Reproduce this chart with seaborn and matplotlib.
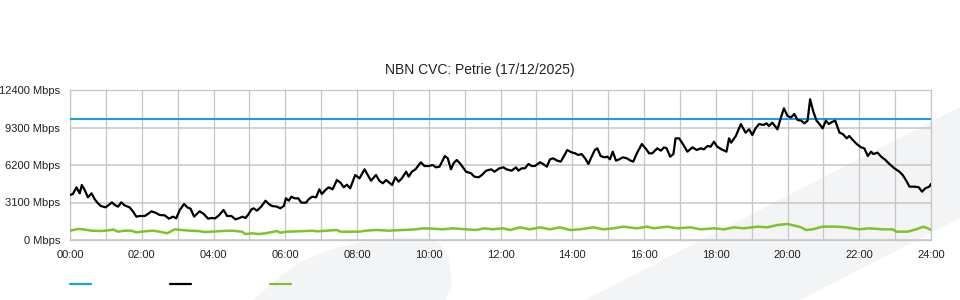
import matplotlib
matplotlib.use("Agg")
import matplotlib.pyplot as plt
import seaborn as sns
import pandas as pd
from matplotlib.lines import Line2D
from matplotlib.patches import Polygon
from matplotlib.ticker import MultipleLocator, FixedLocator

title = "NBN CVC: Petrie (17/12/2025)"
y_ticks = [0, 3100, 6200, 9300, 12400]
y_tick_labels = [f"{v} Mbps" for v in y_ticks]
x_ticks = list(range(0, 25, 2))
x_tick_labels = [f"{h:02d}:00" for h in x_ticks]

capacity_hours = [0, 24]
capacity_mbps = [10000, 10000]

traffic_hours = [
    0.0, 0.08, 0.18, 0.27, 0.33, 0.41, 0.5, 0.6, 0.69, 0.78, 0.86, 0.99, 1.08, 1.17, 1.25, 1.34,
    1.43, 1.52, 1.66, 1.76, 1.85, 1.94, 2.08, 2.17, 2.27, 2.38, 2.5, 2.64, 2.76, 2.87, 2.96, 3.06,
    3.18, 3.27, 3.36, 3.46, 3.61, 3.71, 3.85, 3.94,
    4.05, 4.16, 4.28, 4.38, 4.5, 4.61, 4.7, 4.81, 4.89, 4.96, 5.06, 5.12, 5.21, 5.33, 5.45, 5.54,
    5.63, 5.77, 5.86, 5.96, 6.02, 6.1, 6.17, 6.26, 6.36, 6.45, 6.58, 6.65, 6.75, 6.86, 6.95, 7.02,
    7.12, 7.21, 7.32, 7.44, 7.54, 7.63, 7.72, 7.81, 7.95,
    8.07, 8.21, 8.3, 8.39, 8.53, 8.62, 8.72, 8.81, 8.9, 8.98, 9.07, 9.16, 9.25, 9.37, 9.44, 9.53,
    9.63, 9.78, 9.88, 10.0, 10.11, 10.2, 10.3, 10.37, 10.45, 10.53, 10.62, 10.69, 10.78, 10.87,
    10.95, 11.04, 11.18, 11.27, 11.39, 11.48, 11.6, 11.74, 11.83, 11.97,
    12.08, 12.17, 12.31, 12.43, 12.5, 12.59, 12.68, 12.78, 12.87, 12.96, 13.1, 13.19, 13.29, 13.38,
    13.47, 13.58, 13.68, 13.77, 13.86, 13.98, 14.08, 14.17, 14.26, 14.36, 14.45, 14.54, 14.63, 14.7,
    14.79, 14.89, 14.98, 15.05, 15.13, 15.22, 15.31, 15.41, 15.52, 15.63, 15.7, 15.81, 15.94, 16.08,
    16.14, 16.23, 16.37, 16.47, 16.56, 16.63, 16.73, 16.82, 16.88, 16.98, 17.1, 17.21, 17.35, 17.47,
    17.58, 17.67, 17.77, 17.86, 17.95, 18.04, 18.16, 18.3, 18.37, 18.43, 18.56, 18.7, 18.83, 18.93,
    19.02, 19.11, 19.21, 19.33, 19.42, 19.48, 19.58, 19.72, 19.81, 19.9,
    20.0, 20.1, 20.19, 20.28, 20.38, 20.47, 20.56, 20.63, 20.72, 20.81, 20.89, 20.98, 21.07, 21.15,
    21.26, 21.33, 21.45, 21.54, 21.65, 21.72, 21.82, 21.93, 22.05, 22.14, 22.24, 22.33, 22.39, 22.51,
    22.61, 22.73, 22.84, 22.98, 23.12, 23.21, 23.3, 23.4, 23.54, 23.66, 23.75, 23.84, 23.95, 24.0,
]
traffic_mbps = [
    3720, 3803, 4354, 3858, 4547, 4133, 3527, 3858, 3362, 3031, 2811, 2700, 2893, 3114, 2893, 2756,
    3114, 2866, 2700, 2342, 1929, 1984, 1984, 2149, 2370, 2259, 2067, 2039, 1764, 1929, 1791, 2480,
    2976, 2700, 2590, 1929, 2370, 2204, 1764, 1819,
    1791, 2067, 2480, 1984, 1984, 1709, 1791, 1929, 1819, 2067, 2535, 2618, 2425, 2756, 3251, 2976,
    2811, 2756, 2618, 2811, 3445, 3251, 3582, 3445, 3445, 3086, 3086, 3362, 3582, 3527, 4189, 3803,
    4133, 4354, 4189, 4960, 4740, 4354, 4574, 4271, 5373,
    5098, 5842, 5373, 4905, 5373, 4905, 4685, 4960, 4740, 4547, 5181, 4822, 5098, 5649, 5236, 5649,
    5842, 6421, 6117, 6117, 6200, 6007, 6062, 6476, 6944, 6751, 5842, 6338, 6613, 6338,
    6007, 5649, 5511, 5236, 5181, 5373, 5731, 5842, 5649, 5925,
    6007, 5842, 5731, 6007, 5731, 5925, 5925, 6283, 6117, 6117, 6421, 6283, 6062, 6669,
    6751, 6558, 6476, 6944, 7440, 7247, 7165, 7027, 7109, 6751, 6283, 6889, 7440, 7578,
    6944, 6834, 6889, 6669, 7302, 6558, 6669, 6834, 6751, 6558, 6476, 7219, 7936, 7440,
    7165, 7165, 7578, 7385, 7661, 7578, 6889, 7109, 8405, 8405, 7853, 7302, 7661, 7440,
    7578, 7495, 7771, 7716, 8129, 7716, 7495, 7302, 8405, 8046, 8597, 9589, 8873, 9149,
    8680, 9231, 9589, 9507, 9645, 9424, 9700, 9149, 10058, 10885,
    10251, 10141, 10416, 9920, 9865, 9645, 9865, 11629, 10609, 9865, 9589, 9231, 9865, 9589,
    9782, 9865, 8873, 8763, 8405, 8597, 8267, 7936, 7661, 7578, 6944, 7302, 7109, 7219,
    6889, 6613, 6283, 5925, 5649, 5373, 4960, 4409, 4409, 4354, 3996, 4271, 4409, 4629,
]

upload_hours = [
    0.0, 0.22, 0.36, 0.6, 0.87, 1.15, 1.2, 1.34, 1.52, 1.71, 1.85, 2.08, 2.31, 2.5, 2.71, 2.92,
    3.1, 3.34, 3.57, 3.75, 3.96, 4.24, 4.52, 4.79, 4.89, 5.07, 5.26, 5.45, 5.77, 5.86, 6.05, 6.37,
    6.75, 6.89, 7.16, 7.44, 7.54, 7.86, 8.06, 8.25, 8.53, 8.9, 9.27, 9.65, 9.83, 10.11, 10.39, 10.67,
    11.04, 11.32, 11.55, 11.78, 12.07, 12.27, 12.54, 12.82, 13.1, 13.38, 13.66, 13.94, 14.22, 14.59,
    14.87, 15.15, 15.42, 15.8, 16.08, 16.28, 16.65, 16.93, 17.3, 17.58, 17.95, 18.23, 18.51, 18.79,
    19.16, 19.44, 19.72, 20.0, 20.24, 20.38, 20.52, 20.7, 20.98, 21.35, 21.63, 22.0, 22.28, 22.65,
    22.93, 23.03, 23.35, 23.58, 23.79, 23.91, 24.0,
]
upload_mbps = [
    771, 909, 882, 771, 744, 827, 882, 689, 771, 771, 634, 717, 771, 689, 551, 882,
    827, 771, 744, 661, 689, 744, 771, 689, 496, 551, 496, 551, 744, 606, 689, 717,
    771, 717, 771, 827, 689, 689, 689, 771, 827, 771, 827, 882, 965, 937, 882, 965,
    882, 827, 965, 882, 965, 827, 1047, 882, 1047, 882, 1047, 827, 882, 1047,
    882, 965, 1102, 965, 1102, 965, 1102, 965, 1047, 882, 965, 882, 1047, 965,
    1102, 1047, 1240, 1323, 1157, 1047, 827, 882, 1102, 1102, 1047, 882, 965, 882,
    882, 689, 689, 882, 1102, 965, 827,
]

BLUE = "#1d9fdc"
BLACK = "#000000"
GREEN = "#7fc22a"
GRID = "#c6c6c6"

sns.set_style("white")
plt.rcParams["font.family"] = ["Liberation Sans", "DejaVu Sans"]

fig = plt.figure(figsize=(9.6, 3.0), dpi=100)
fig.patch.set_facecolor("white")

W, H = 960.0, 300.0
def fp(pts):
    return [(x / W, 1 - y / H) for x, y in pts]

wm = "#f3f4f6"
band = Polygon(fp([(585, 300), (960, 107), (960, 218), (800, 300)]),
               closed=True, transform=fig.transFigure, facecolor=wm, edgecolor="none", zorder=-5)
leaf = Polygon(fp([(253, 300), (280, 276), (300, 262), (330, 250), (360, 242), (400, 237),
                   (425, 238), (440, 243), (448, 255), (452, 285), (446, 300)]),
               closed=True, transform=fig.transFigure, facecolor=wm, edgecolor="none", zorder=-5)
fig.add_artist(band)
fig.add_artist(leaf)

ax = fig.add_axes([70 / W, 60 / H, 861 / W, 150 / H])
ax.set_facecolor("none")

cap_df = pd.DataFrame({"hour": capacity_hours, "mbps": capacity_mbps})
tr_df = pd.DataFrame({"hour": traffic_hours, "mbps": traffic_mbps})
up_df = pd.DataFrame({"hour": upload_hours, "mbps": upload_mbps})

sns.lineplot(data=up_df, x="hour", y="mbps", ax=ax, color=GREEN, linewidth=1.8,
             estimator=None, sort=False, zorder=3)
sns.lineplot(data=cap_df, x="hour", y="mbps", ax=ax, color=BLUE, linewidth=1.5,
             estimator=None, sort=False, zorder=4)
sns.lineplot(data=tr_df, x="hour", y="mbps", ax=ax, color=BLACK, linewidth=1.6,
             estimator=None, sort=False, zorder=5)

ax.set_xlim(0, 24)
ax.set_ylim(0, 12400)
ax.xaxis.set_major_locator(FixedLocator(x_ticks))
ax.set_xticklabels(x_tick_labels)
ax.xaxis.set_minor_locator(MultipleLocator(1))
ax.yaxis.set_major_locator(FixedLocator(y_ticks))
ax.set_yticklabels(y_tick_labels)
ax.set_xlabel("")
ax.set_ylabel("")
ax.set_axisbelow(True)
ax.grid(True, which="both", axis="x", color=GRID, linewidth=0.9)
ax.grid(True, which="major", axis="y", color=GRID, linewidth=1.1)
ax.tick_params(axis="both", which="both", length=0, labelsize=8, colors="#222222", pad=7)
for s in ax.spines.values():
    s.set_visible(True)
    s.set_color(GRID)
    s.set_linewidth(0.9)

fig.text(0.5, 1 - 70 / H, title, ha="center", va="center", fontsize=10, color="#222222")

handles = [Line2D([], [], color=BLUE, linewidth=1.6),
           Line2D([], [], color=BLACK, linewidth=1.6),
           Line2D([], [], color=GREEN, linewidth=1.6)]
fig.legend(handles=handles, labels=["", "", ""], ncol=3, loc="center left",
           bbox_to_anchor=(70 / W, 15 / H), frameon=False, fontsize=8,
           handlelength=1.9, handletextpad=0.0, columnspacing=7.1,
           borderpad=0, borderaxespad=0)

fig.savefig("out.png", dpi=100)
